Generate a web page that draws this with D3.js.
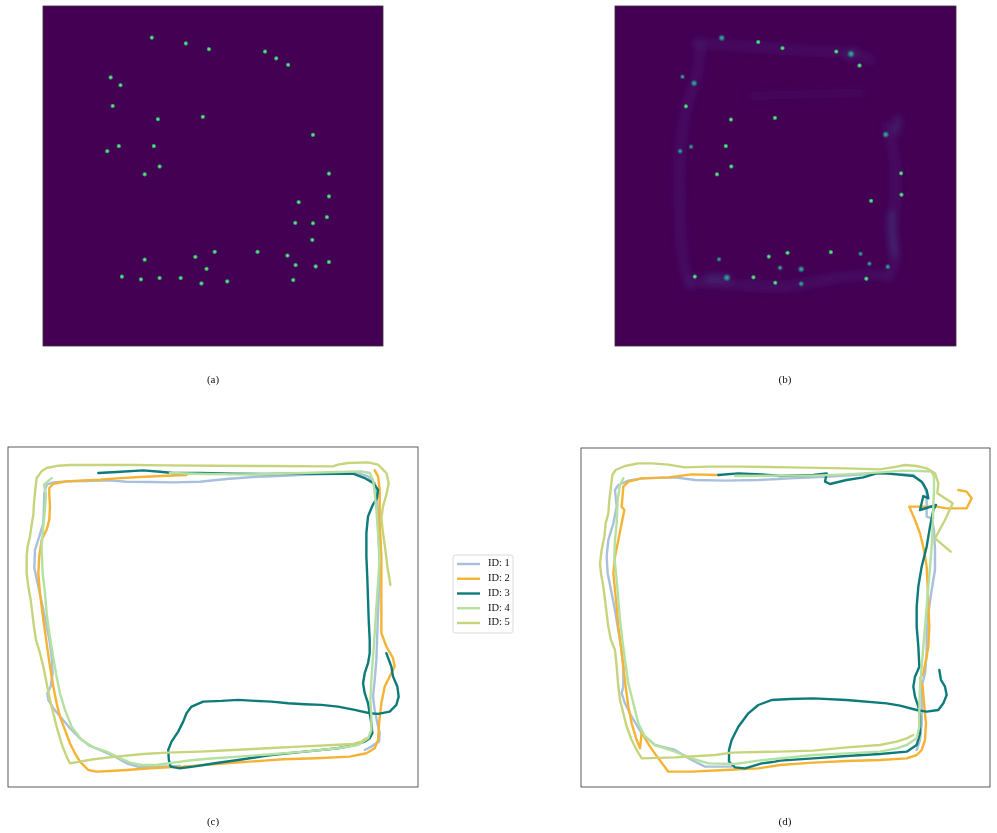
<!DOCTYPE html>
<html>
<head>
<meta charset="utf-8">
<script src="https://cdn.jsdelivr.net/npm/d3@7"></script>
<style>
  body { margin: 0; background: #fff; }
  svg text { font-family: "Liberation Serif", "DejaVu Serif", serif; fill: #111; }
</style>
</head>
<body>
<div id="chart"></div>
<script>
// ---- heat map peaks, in percent of the map (x right, y down) ----
var peaksA = [
  [32.0, 9.3], [42.0, 11.0], [48.8, 12.7], [65.3, 13.4], [68.6, 15.4], [72.1, 17.3],
  [19.9, 21.0], [22.8, 23.3], [20.5, 29.4], [33.8, 33.3], [47.0, 32.6], [79.4, 37.9],
  [22.3, 41.2], [18.9, 42.7], [32.6, 41.2], [34.3, 47.2], [29.9, 49.5], [84.1, 49.3],
  [84.1, 56.0], [75.2, 57.7], [83.5, 62.1], [74.2, 63.8], [79.4, 63.9], [79.2, 68.8],
  [50.5, 72.3], [63.1, 72.3], [44.8, 73.8], [71.9, 73.4], [29.9, 74.6], [48.1, 77.3],
  [74.3, 76.2], [80.2, 76.6], [84.1, 75.3], [23.2, 79.6], [28.8, 80.4], [34.3, 80.0],
  [40.5, 80.0], [46.6, 81.6], [54.2, 81.0], [73.6, 80.6]
];
// predicted map: x, y, spread
var peaksB = [
  [31.3, 9.4, 1.6], [42.0, 10.6, 1], [49.1, 12.4, 1], [64.9, 13.4, 1], [69.2, 14.1, 1.8],
  [71.7, 17.5, 1], [19.8, 20.8, 1.2], [23.2, 22.7, 1.6], [20.8, 29.5, 1], [34.0, 33.4, 1],
  [46.9, 32.9, 1], [79.4, 37.8, 1.6], [22.3, 41.4, 1.2], [19.1, 42.7, 1.3], [32.5, 41.2, 1],
  [34.1, 47.2, 1], [29.9, 49.5, 1], [83.9, 49.2, 1], [84.0, 55.5, 1], [75.1, 57.3, 1],
  [50.6, 72.6, 1], [63.3, 72.4, 1], [45.1, 73.7, 1], [72.0, 72.9, 1.2], [30.5, 74.5, 1.2],
  [48.4, 77.0, 1.3], [74.6, 75.8, 1.2], [80.0, 76.7, 1.3], [23.4, 79.6, 1], [40.6, 79.8, 1],
  [47.0, 81.4, 1], [54.6, 81.7, 1.4], [73.7, 80.2, 1], [54.6, 77.4, 1.6], [32.8, 79.9, 1.8]
];
// faint density bands in the predicted map
var hazeB = [
  [[25, 11], [24, 20], [21, 30], [19, 45], [19, 60], [20, 75], [22, 82]],
  [[24, 11], [40, 12], [55, 13], [70, 14], [75, 16]],
  [[40, 26.5], [55, 26], [72, 25.5]],
  [[80, 35], [82, 45], [82, 58], [81, 65], [82, 75], [80, 80]],
  [[22, 81], [35, 82], [50, 82.5], [65, 80], [78, 79]]
];
var hazeLevel = [0.4, 0.35, 0.18, 0.4, 0.4];
var smudgeB = [
  [[81, 61], [81.5, 67], [82, 73]],
  [[83, 33], [82.5, 37]],
  [[27, 80], [33, 80]],
  [[68.5, 15], [70, 13.5]]
];

// ---- trajectories (cm, y down) ----
var ids = ["ID: 1", "ID: 2", "ID: 3", "ID: 4", "ID: 5"];
var colors = ["#a9c0dc", "#f5b335", "#0e7b7b", "#b4e0a0", "#c8d47c"];
var panelLabels = ["(a)", "(b)", "(c)", "(d)"];

var trackC1 = [[520,958],[460,960],[400,962],[360,950],[325,930],[280,910],[250,898],[220,875],[190,845],[165,815],[140,785],[125,760],[122,740],[132,720],[138,680],[135,630],[128,580],[120,540],[108,480],[95,420],[83,365],[85,310],[98,270],[110,230],[112,180],[113,140],[120,115],[140,108],[180,105],[240,104],[310,102],[360,106],[430,107],[500,108],[580,106],[660,98],[740,92],[830,88],[930,84],[1010,82],[1055,80],[1085,90],[1105,110],[1110,140],[1115,200],[1117,280],[1120,360],[1118,430],[1115,500],[1112,580],[1110,640],[1105,700],[1100,750],[1105,790],[1113,830],[1120,860],[1118,885],[1095,900],[1075,910]];
var trackC2 = [[1105,72],[1115,90],[1120,130],[1120,230],[1125,330],[1125,430],[1125,560],[1140,600],[1160,635],[1165,660],[1150,690],[1135,720],[1125,770],[1118,830],[1115,880],[1105,905],[1080,920],[1030,930],[930,935],[830,938],[730,945],[630,952],[530,960],[430,965],[360,970],[310,973],[270,975],[245,970],[220,945],[205,920],[190,890],[175,850],[160,810],[150,770],[140,720],[130,660],[120,590],[110,520],[100,440],[95,380],[98,330],[105,280],[120,250],[128,220],[130,180],[128,145],[128,125],[140,112],[180,105],[230,102],[280,100],[330,96],[400,92],[480,88],[540,86]];
var trackC3 = [[275,80],[330,77],[410,72],[460,76],[500,80],[580,80],[680,82],[780,83],[880,82],[980,82],[1040,82],[1075,95],[1100,110],[1115,130],[1112,155],[1098,178],[1085,210],[1080,260],[1080,330],[1083,400],[1085,460],[1087,520],[1090,580],[1090,620],[1085,650],[1075,680],[1070,710],[1075,740],[1085,770],[1090,800],[1095,830],[1098,860],[1090,875],[1075,885],[1045,895],[995,905],[895,915],[795,925],[695,940],[625,950],[560,960],[520,965],[492,960],[487,940],[485,910],[495,885],[515,855],[530,825],[540,800],[555,780],[590,765],[645,763],[695,760],[745,763],[795,765],[845,770],[895,773],[945,775],[995,780],[1045,790],[1090,800],[1115,802],[1150,795],[1170,775],[1177,750],[1173,720],[1160,690],[1155,660],[1140,620]];
var trackC4 = [[135,95],[112,115],[118,145],[115,190],[110,240],[105,300],[108,380],[115,440],[120,500],[128,560],[138,620],[148,680],[160,740],[175,790],[195,840],[225,880],[260,902],[300,915],[335,932],[370,948],[405,955],[450,955],[500,948],[560,940],[625,935],[695,930],[795,923],[895,915],[995,905],[1055,895],[1085,875],[1095,850],[1095,810],[1092,760],[1095,700],[1100,630],[1105,560],[1110,480],[1115,410],[1120,340],[1115,260],[1110,190],[1105,140],[1100,100],[1090,80],[1065,75],[995,77],[895,80],[795,83],[695,84],[595,83],[490,80]];
var trackC5 = [[1080,875],[1065,885],[1040,892],[980,895],[880,900],[780,905],[680,910],[580,915],[480,918],[410,922],[330,930],[260,938],[190,950],[180,930],[168,900],[160,875],[150,840],[140,800],[130,760],[120,710],[110,660],[100,620],[88,580],[82,540],[77,500],[72,460],[65,420],[60,380],[60,330],[63,300],[70,270],[75,235],[80,205],[82,170],[86,130],[90,95],[105,75],[120,65],[155,58],[190,56],[280,56],[380,56],[480,57],[620,58],[780,59],[980,60],[995,55],[1025,50],[1085,48],[1115,55],[1140,80],[1147,110],[1140,145],[1130,180],[1125,215],[1130,260],[1137,310],[1143,360],[1152,415]];

var trackD1 = [[450,960],[370,960],[330,940],[280,910],[220,895],[180,860],[150,810],[130,770],[120,740],[125,720],[125,660],[118,600],[108,540],[98,480],[88,430],[78,380],[75,330],[80,280],[95,230],[105,180],[100,130],[110,115],[140,102],[180,95],[280,92],[340,100],[430,102],[530,100],[625,95],[695,92],[745,90],[895,80],[995,85],[1025,110],[1035,140],[1035,210],[1050,215],[1057,250],[1060,310],[1060,370],[1050,430],[1040,500],[1035,560],[1035,620],[1030,680],[1020,720],[1020,780],[1020,830],[1015,880],[1005,910]];
var trackD2 = [[410,85],[330,83],[260,92],[180,95],[140,105],[125,120],[120,180],[128,190],[118,240],[110,280],[100,330],[95,380],[100,430],[105,480],[110,540],[118,600],[125,660],[132,720],[140,780],[150,830],[165,880],[175,905],[180,858],[205,900],[230,935],[260,975],[330,975],[430,970],[530,965],[595,955],[695,948],[795,943],[895,940],[975,935],[1005,925],[1020,910],[1030,880],[1033,830],[1027,770],[1023,720],[1015,695],[1025,680],[1033,640],[1040,600],[1043,540],[1040,480],[1038,420],[1035,360],[1027,310],[1015,260],[1000,220],[983,180],[1065,180],[1095,185],[1155,185],[1170,155],[1155,135],[1130,130]];
var trackD3 = [[410,85],[470,80],[540,83],[595,88],[695,85],[735,80],[730,105],[745,112],[795,100],[845,92],[885,80],[915,80],[945,83],[995,88],[1020,105],[1035,130],[1040,155],[1025,148],[1015,190],[1063,175],[1055,190],[1045,240],[1035,300],[1020,360],[1010,420],[1005,480],[1005,540],[1010,600],[1013,660],[1000,690],[995,720],[1000,750],[1010,780],[1015,810],[1015,860],[1005,895],[975,915],[895,922],[795,928],[695,935],[595,942],[580,945],[540,950],[490,965],[460,962],[442,945],[442,910],[450,880],[470,840],[500,800],[530,775],[570,760],[625,757],[695,755],[795,760],[915,770],[955,777],[1005,790],[1035,795],[1070,790],[1085,770],[1095,745],[1090,720],[1078,700],[1073,670]];
var trackD4 = [[125,95],[115,115],[108,160],[105,230],[100,280],[98,330],[105,400],[110,460],[115,520],[122,580],[130,640],[140,710],[155,770],[170,830],[190,870],[220,895],[280,915],[330,935],[380,950],[460,952],[530,942],[595,935],[695,925],[795,920],[895,915],[945,905],[975,895],[1005,875],[1013,840],[1013,780],[1015,720],[1020,660],[1025,600],[1030,540],[1035,480],[1040,420],[1045,360],[1050,300],[1053,240],[1055,180],[1057,130],[1057,90],[1050,75],[1015,73],[965,72],[895,77],[795,83],[695,87],[595,87],[460,88]];
var trackD5 = [[995,865],[975,875],[945,885],[895,895],[795,902],[695,912],[595,915],[530,916],[450,918],[400,925],[280,932],[180,935],[165,910],[150,880],[135,840],[125,800],[115,760],[110,720],[105,660],[100,610],[88,580],[80,540],[75,500],[70,460],[65,420],[58,380],[55,350],[60,310],[68,270],[72,230],[80,200],[83,160],[88,120],[92,85],[102,70],[130,58],[170,50],[210,50],[260,54],[310,62],[380,60],[480,60],[625,62],[795,65],[895,68],[945,60],[970,55],[1005,58],[1035,65],[1060,80],[1070,110],[1067,140],[1113,170],[1090,220],[1060,275],[1107,315]];

var tracksC = [trackC1, trackC2, trackC3, trackC4, trackC5];
var tracksD = [trackD1, trackD2, trackD3, trackD4, trackD5];

// ---- layout ----
var width = 997, height = 833;
var svg = d3.select("#chart").append("svg")
    .attr("width", width)
    .attr("height", height);

var defs = svg.append("defs");

// viridis-like peak gradients
function peakGradient(id, stops) {
    var g = defs.append("radialGradient").attr("id", id);
    stops.forEach(function (s) {
        g.append("stop").attr("offset", s[0]).attr("stop-color", s[1]).attr("stop-opacity", s[2]);
    });
}
peakGradient("dot", [[0, "#c2df23", 1], [0.3, "#7ad151", 1], [0.6, "#22a884", 1], [0.85, "#2f6b8e", 0.7], [1, "#440154", 0]]);
peakGradient("blob", [[0, "#3fbc73", 1], [0.35, "#25968b", 0.9], [0.7, "#38598c", 0.5], [1, "#440154", 0]]);

defs.append("filter").attr("id", "haze")
    .attr("x", "-20%").attr("y", "-20%").attr("width", "140%").attr("height", "140%")
    .append("feGaussianBlur").attr("stdDeviation", 3.5);

// heat map panels
var mapBoxes = [
    {x0: 43, x1: 383, y0: 6, y1: 346},
    {x0: 615, x1: 956, y0: 6, y1: 346}
];

function drawMap(box, clipId) {
    var x = d3.scaleLinear().domain([0, 100]).range([box.x0, box.x1]);
    var y = d3.scaleLinear().domain([0, 100]).range([box.y0, box.y1]);
    defs.append("clipPath").attr("id", clipId)
        .append("rect")
        .attr("x", box.x0).attr("y", box.y0)
        .attr("width", box.x1 - box.x0).attr("height", box.y1 - box.y0);
    var g = svg.append("g").attr("clip-path", "url(#" + clipId + ")");
    g.append("rect")
        .attr("x", box.x0).attr("y", box.y0)
        .attr("width", box.x1 - box.x0).attr("height", box.y1 - box.y0)
        .attr("fill", "#440154");
    return {g: g, x: x, y: y};
}

var mapA = drawMap(mapBoxes[0], "clipA");
mapA.g.selectAll("circle.peak")
    .data(peaksA)
    .enter().append("circle")
    .attr("class", "peak")
    .attr("cx", function (d) { return mapA.x(d[0]); })
    .attr("cy", function (d) { return mapA.y(d[1]); })
    .attr("r", 2.6)
    .attr("fill", "url(#dot)");

var mapB = drawMap(mapBoxes[1], "clipB");
var hazeLine = d3.line()
    .x(function (d) { return mapB.x(d[0]); })
    .y(function (d) { return mapB.y(d[1]); })
    .curve(d3.curveCatmullRom);

var hazeG = mapB.g.append("g").attr("filter", "url(#haze)");
hazeG.selectAll("path.band")
    .data(hazeB)
    .enter().append("path")
    .attr("class", "band")
    .attr("d", hazeLine)
    .attr("fill", "none")
    .attr("stroke", "#482b7c")
    .attr("stroke-width", 8)
    .attr("stroke-linecap", "round")
    .attr("opacity", function (d, i) { return hazeLevel[i]; });
hazeG.selectAll("path.smudge")
    .data(smudgeB)
    .enter().append("path")
    .attr("class", "smudge")
    .attr("d", hazeLine)
    .attr("fill", "none")
    .attr("stroke", "#3e4d8a")
    .attr("stroke-width", 5)
    .attr("stroke-linecap", "round")
    .attr("opacity", 0.55);

mapB.g.selectAll("circle.peak")
    .data(peaksB)
    .enter().append("circle")
    .attr("class", "peak")
    .attr("cx", function (d) { return mapB.x(d[0]); })
    .attr("cy", function (d) { return mapB.y(d[1]); })
    .attr("r", function (d) { return 2.6 * d[2]; })
    .attr("fill", function (d) { return d[2] > 1.1 ? "url(#blob)" : "url(#dot)"; });

mapBoxes.forEach(function (b) {
    svg.append("rect")
        .attr("x", b.x0).attr("y", b.y0)
        .attr("width", b.x1 - b.x0).attr("height", b.y1 - b.y0)
        .attr("fill", "none")
        .attr("stroke", "#333")
        .attr("stroke-width", 0.8);
});

// trajectory panels
var trackBoxes = [
    {x0: 8, x1: 418, y0: 447, y1: 787, dx: [4, 1235], dy: [2, 1021], tracks: tracksC},
    {x0: 581, x1: 990, y0: 448, y1: 787, dx: [-2, 1225], dy: [4, 1021], tracks: tracksD}
];

trackBoxes.forEach(function (b, k) {
    var x = d3.scaleLinear().domain(b.dx).range([b.x0, b.x1]);
    var y = d3.scaleLinear().domain(b.dy).range([b.y0, b.y1]);
    var line = d3.line()
        .x(function (d) { return x(d[0]); })
        .y(function (d) { return y(d[1]); });

    svg.append("rect")
        .attr("x", b.x0).attr("y", b.y0)
        .attr("width", b.x1 - b.x0).attr("height", b.y1 - b.y0)
        .attr("fill", "#fff")
        .attr("stroke", "#333")
        .attr("stroke-width", 0.8);

    svg.append("g").selectAll("path")
        .data(b.tracks)
        .enter().append("path")
        .attr("d", line)
        .attr("fill", "none")
        .attr("stroke", function (d, i) { return colors[i]; })
        .attr("stroke-width", 2.4)
        .attr("stroke-linejoin", "round")
        .attr("stroke-linecap", "round");
});

// panel labels
var labelPos = [[213, 380], [785, 380], [213, 822], [785, 822]];
svg.selectAll("text.plabel")
    .data(panelLabels)
    .enter().append("text")
    .attr("class", "plabel")
    .attr("x", function (d, i) { return labelPos[i][0]; })
    .attr("y", function (d, i) { return labelPos[i][1]; })
    .attr("text-anchor", "middle")
    .attr("dominant-baseline", "middle")
    .attr("font-size", 11)
    .text(function (d) { return d; });

// legend
var legend = svg.append("g").attr("transform", "translate(453,555)");
legend.append("rect")
    .attr("width", 60).attr("height", 78)
    .attr("rx", 2.5)
    .attr("fill", "#fff")
    .attr("stroke", "#d0d0d0")
    .attr("stroke-width", 0.8);
var ly = d3.scalePoint().domain(ids).range([9, 68]);
var item = legend.selectAll("g.item")
    .data(ids)
    .enter().append("g")
    .attr("class", "item")
    .attr("transform", function (d) { return "translate(0," + ly(d) + ")"; });
item.append("line")
    .attr("x1", 4).attr("x2", 27)
    .attr("stroke", function (d, i) { return colors[i]; })
    .attr("stroke-width", 2.4);
item.append("text")
    .attr("x", 35)
    .attr("dominant-baseline", "middle")
    .attr("font-size", 10.5)
    .text(function (d) { return d; });
</script>
</body>
</html>
